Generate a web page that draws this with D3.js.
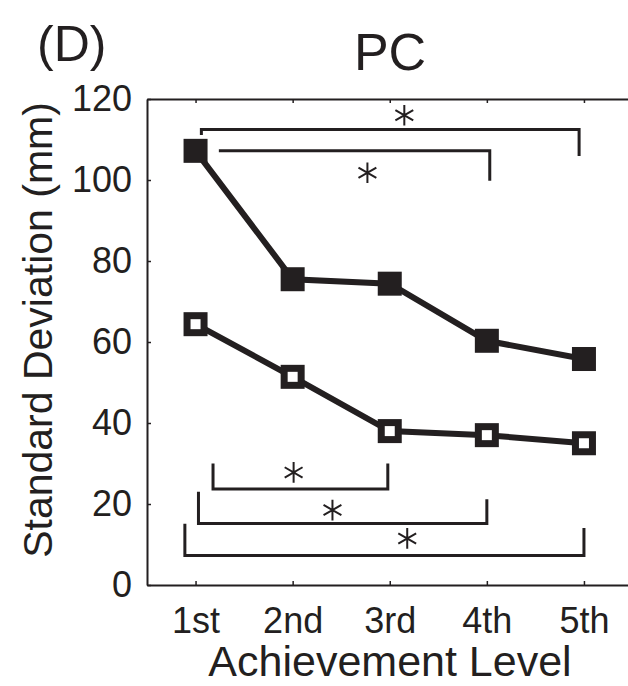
<!DOCTYPE html>
<html>
  <head>
    <meta charset="utf-8">
    <title>PC - Standard Deviation by Achievement Level</title>
    <script src="https://d3js.org/d3.v7.min.js"></script>
    <style>
      body { margin: 0; background: #fff; }
      text { font-family: "Liberation Sans", Arial, sans-serif; fill: #231f20; }
    </style>
  </head>
  <body>
    <script>
        // values
        var levels = ["1st", "2nd", "3rd", "4th", "5th"]
        var filledSeries = [107.2, 75.5, 74.4, 60.3, 55.8]
        var openSeries = [64.4, 51.4, 38.0, 37.0, 35.0]
        var yTicks = [0, 20, 40, 60, 80, 100, 120]

        // significance brackets: x from/to (level units), bar y, end tick y's, star position
        var topBrackets = [
          {x1: 1.06, x2: 4.95, y: 112.5, y1: 111.1, y2: 105.9, sx: 3.15, sy: 116.0},
          {x1: 1.24, x2: 4.03, y: 107.2, y1: 107.2, y2: 99.8, sx: 2.77, sy: 101.8}
        ]
        var bottomBrackets = [
          {x1: 1.18, x2: 2.98, y: 23.7, y1: 30.0, y2: 30.0, sx: 2.01, sy: 27.8},
          {x1: 1.03, x2: 4.00, y: 15.2, y1: 23.0, y2: 21.2, sx: 2.41, sy: 18.5},
          {x1: 0.89, x2: 5.00, y: 7.3, y1: 15.1, y2: 14.1, sx: 3.18, sy: 11.5}
        ]
        var brackets = topBrackets.concat(bottomBrackets)

        var ink = "#231f20"
        var W = 628, H = 686

        var svg = d3.select("body").append("svg")
            .attr("width", W)
            .attr("height", H)

        var x = d3.scaleLinear().domain([0.5, 5.5]).range([147, 632.5])
        var y = d3.scaleLinear().domain([0, 120]).range([585, 99])

        // axes (MATLAB style: inward ticks, no right edge)
        var yAxis = svg.append("g")
            .attr("transform", "translate(147,0)")
            .call(d3.axisLeft(y).tickValues(yTicks).tickSizeInner(-4).tickSizeOuter(0).tickPadding(15))
        var xAxis = svg.append("g")
            .attr("transform", "translate(0,585)")
            .call(d3.axisBottom(x).tickValues([1, 2, 3, 4, 5])
                  .tickFormat(function(d) { return levels[d - 1]; })
                  .tickSizeInner(-4).tickSizeOuter(0).tickPadding(22))
        var topAxis = svg.append("g")
            .attr("transform", "translate(0,99)")
            .call(d3.axisTop(x).tickValues([1, 2, 3, 4, 5]).tickFormat("")
                  .tickSizeInner(-4).tickSizeOuter(0))

        svg.selectAll(".domain").attr("stroke", ink).attr("stroke-width", 2)
        svg.selectAll(".tick line").attr("stroke", ink).attr("stroke-width", 1.5)
        svg.selectAll(".tick text")
            .style("font-family", "'Liberation Sans', Arial, sans-serif")
            .style("font-size", "36px")
            .attr("fill", ink)

        // brackets
        var br = svg.append("g")
        brackets.forEach(function(b) {
          br.append("path")
            .attr("d", "M" + x(b.x1) + "," + y(b.y1) + "V" + y(b.y) + "H" + x(b.x2) + "V" + y(b.y2))
            .attr("fill", "none")
            .attr("stroke", ink)
            .attr("stroke-width", 3)
          br.append("path")
            .attr("transform", "translate(" + x(b.sx) + "," + y(b.sy) + ")")
            .attr("d", d3.symbol(d3.symbolAsterisk, 300)())
            .attr("fill", "none")
            .attr("stroke", ink)
            .attr("stroke-width", 2)
        })

        // series lines
        var line = d3.line()
            .x(function(d, i) { return x(i + 1); })
            .y(function(d) { return y(d); })

        svg.append("path")
            .datum(filledSeries)
            .attr("d", line)
            .attr("fill", "none")
            .attr("stroke", ink)
            .attr("stroke-width", 6)
        svg.append("path")
            .datum(openSeries)
            .attr("d", line)
            .attr("fill", "none")
            .attr("stroke", ink)
            .attr("stroke-width", 6)

        // markers
        svg.append("g").selectAll("rect")
            .data(filledSeries)
            .enter()
            .append("rect")
              .attr("x", function(d, i) { return x(i + 1) - 12; })
              .attr("y", function(d) { return y(d) - 12; })
              .attr("width", 24)
              .attr("height", 24)
              .attr("fill", ink)

        svg.append("g").selectAll("rect")
            .data(openSeries)
            .enter()
            .append("rect")
              .attr("x", function(d, i) { return x(i + 1) - 8.5; })
              .attr("y", function(d) { return y(d) - 8.5; })
              .attr("width", 17)
              .attr("height", 17)
              .attr("fill", "#fff")
              .attr("stroke", ink)
              .attr("stroke-width", 7)

        // labels
        svg.append("text")
            .attr("x", 37)
            .attr("y", 61)
            .attr("font-size", "50px")
            .text("(D)")

        svg.append("text")
            .attr("text-anchor", "middle")
            .attr("x", 390)
            .attr("y", 70)
            .attr("font-size", "52px")
            .text("PC")

        svg.append("text")
            .attr("text-anchor", "middle")
            .attr("x", 390)
            .attr("y", 676)
            .attr("font-size", "43px")
            .text("Achievement Level")

        svg.append("text")
            .attr("text-anchor", "middle")
            .attr("transform", "translate(52,330) rotate(-90)")
            .attr("font-size", "41px")
            .text("Standard Deviation (mm)")
    </script>
  </body>
</html>
